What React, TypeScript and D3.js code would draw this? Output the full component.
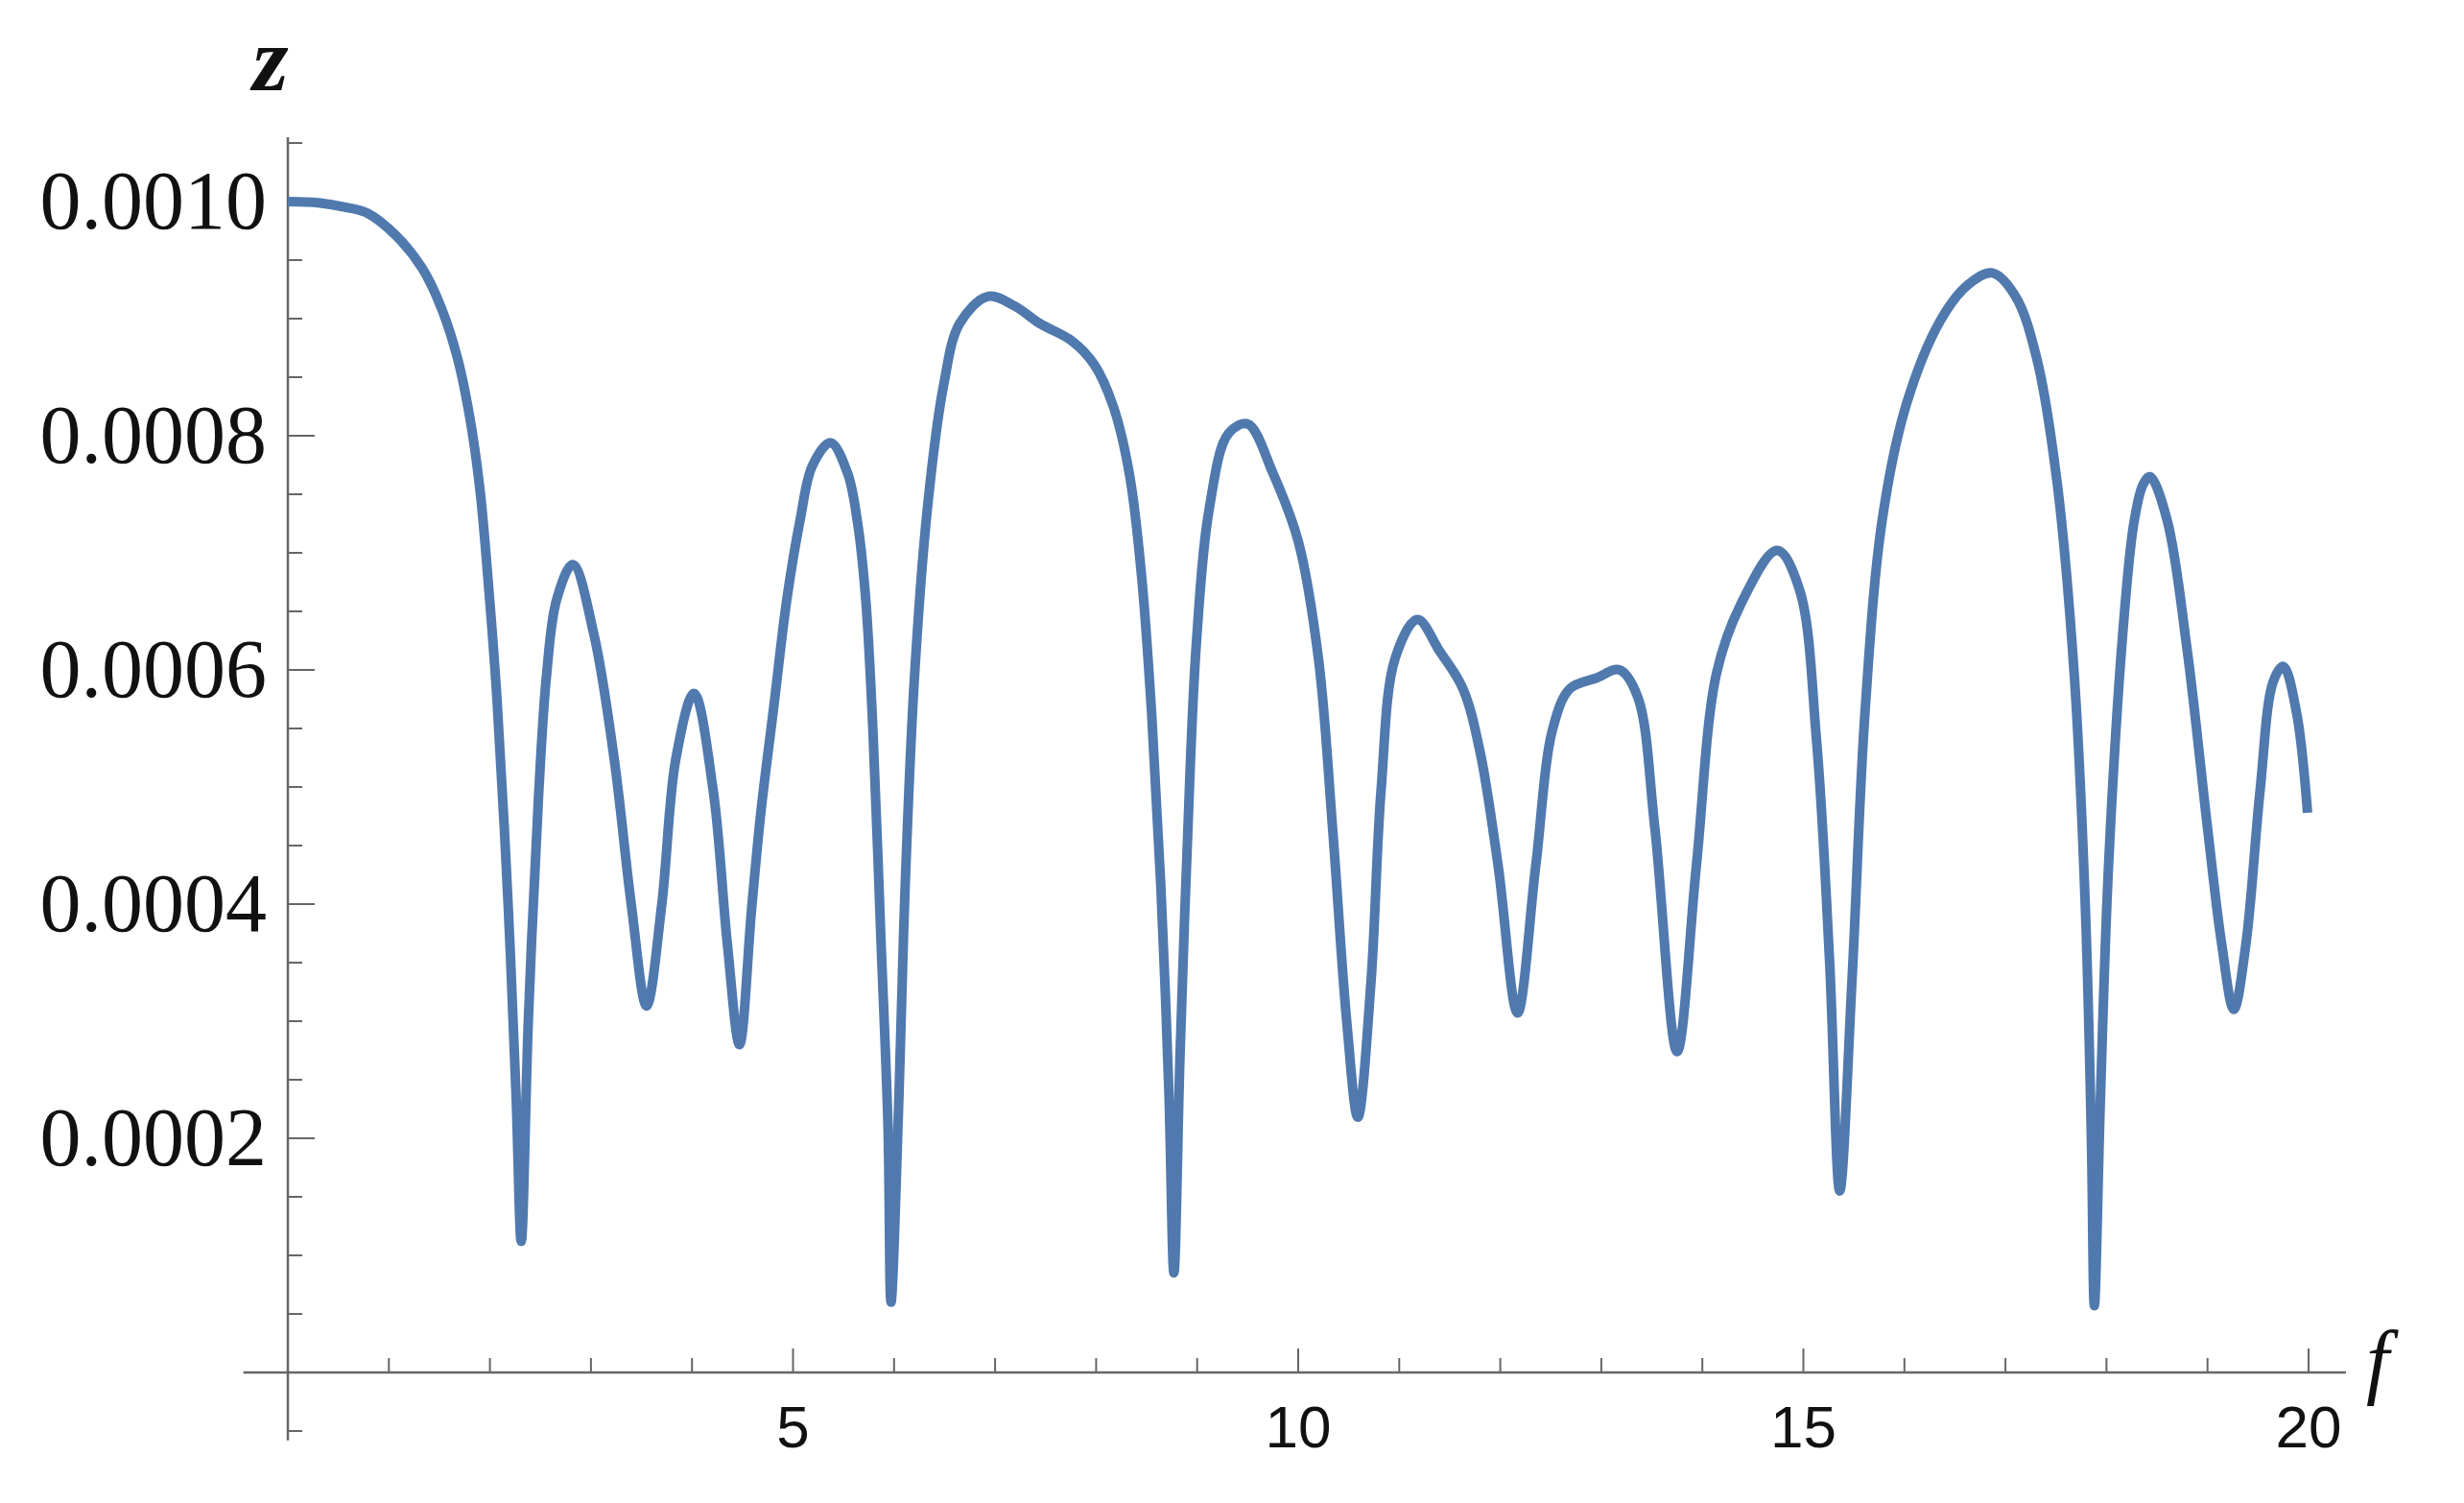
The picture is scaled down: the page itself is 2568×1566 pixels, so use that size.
import React, { useRef, useEffect } from 'react';
import * as d3 from 'd3';

// curve samples (f, z)
const fValues = [
  0, 0.3, 0.58, 0.79, 1.07, 1.33, 1.52, 1.68, 1.8, 1.9,
  1.99, 2.07, 2.18, 2.26, 2.31, 2.38, 2.48, 2.56, 2.66, 2.82,
  3.03, 3.23, 3.4, 3.55, 3.7, 3.84, 4.02, 4.21, 4.35, 4.47,
  4.59, 4.68, 4.81, 4.94, 5.07, 5.19, 5.37, 5.54, 5.64, 5.72,
  5.79, 5.87, 5.94, 5.97, 6.05, 6.11, 6.2, 6.33, 6.49, 6.65,
  6.93, 7.19, 7.44, 7.76, 7.98, 8.17, 8.33, 8.45, 8.55, 8.64,
  8.72, 8.77, 8.83, 8.9, 8.99, 9.12, 9.31, 9.5, 9.75, 10.0,
  10.2, 10.34, 10.48, 10.59, 10.72, 10.82, 10.96, 11.18, 11.4, 11.63,
  11.8, 11.98, 12.17, 12.35, 12.52, 12.69, 12.95, 13.18, 13.36, 13.53,
  13.75, 13.94, 14.14, 14.38, 14.74, 14.96, 15.13, 15.26, 15.36, 15.48,
  15.61, 15.78, 16.02, 16.36, 16.63, 16.87, 17.1, 17.31, 17.51, 17.68,
  17.79, 17.85, 17.88, 17.94, 18.02, 18.16, 18.27, 18.36, 18.43, 18.6,
  18.8, 19.0, 19.14, 19.26, 19.38, 19.52, 19.65, 19.75, 19.88, 19.99,
];

const zValues = [
  10.0e-4, 9.99e-4, 9.95e-4, 9.9e-4, 9.71e-4, 9.43e-4, 9.09e-4, 8.66e-4, 8.16e-4, 7.55e-4,
  6.68e-4, 5.75e-4, 4.0e-4, 2.34e-4, 1.12e-4, 3.0e-4, 4.9e-4, 5.95e-4, 6.6e-4, 6.9e-4,
  6.3e-4, 5.24e-4, 3.99e-4, 3.13e-4, 3.99e-4, 5.24e-4, 5.8e-4, 4.97e-4, 3.66e-4, 2.8e-4,
  3.96e-4, 4.77e-4, 5.69e-4, 6.61e-4, 7.28e-4, 7.74e-4, 7.94e-4, 7.68e-4, 7.25e-4, 6.6e-4,
  5.5e-4, 3.7e-4, 2.1e-4, 0.6e-4, 2.4e-4, 4.16e-4, 5.91e-4, 7.38e-4, 8.43e-4, 8.96e-4,
  9.19e-4, 9.11e-4, 8.96e-4, 8.81e-4, 8.61e-4, 8.25e-4, 7.67e-4, 6.8e-4, 5.62e-4, 4.16e-4,
  2.4e-4, 0.85e-4, 2.7e-4, 4.45e-4, 6.2e-4, 7.38e-4, 8.02e-4, 8.1e-4, 7.68e-4, 7.1e-4,
  6.1e-4, 4.65e-4, 3.0e-4, 2.18e-4, 3.33e-4, 4.97e-4, 6.1e-4, 6.43e-4, 6.16e-4, 5.84e-4,
  5.3e-4, 4.32e-4, 3.07e-4, 4.32e-4, 5.5e-4, 5.84e-4, 5.93e-4, 6.0e-4, 5.77e-4, 4.65e-4,
  2.74e-4, 4.32e-4, 5.97e-4, 6.56e-4, 7.02e-4, 6.69e-4, 5.4e-4, 3.5e-4, 1.55e-4, 3.33e-4,
  5.64e-4, 7.28e-4, 8.27e-4, 8.99e-4, 9.29e-4, 9.39e-4, 9.19e-4, 8.66e-4, 7.61e-4, 5.97e-4,
  3.99e-4, 2.02e-4, 0.57e-4, 2.34e-4, 4.32e-4, 6.3e-4, 7.25e-4, 7.58e-4, 7.65e-4, 7.28e-4,
  6.16e-4, 4.65e-4, 3.66e-4, 3.1e-4, 3.66e-4, 4.97e-4, 5.9e-4, 6.03e-4, 5.64e-4, 4.78e-4,
];

const xMajorTicks = [5, 10, 15, 20];
const xMinorTicks = [1, 2, 3, 4, 6, 7, 8, 9, 11, 12, 13, 14, 16, 17, 18, 19];
const yMajorTicks = [0.0002, 0.0004, 0.0006, 0.0008, 0.001];
const yTickLabels = ['0.0002', '0.0004', '0.0006', '0.0008', '0.0010'];
const yMinorTicks = [
  -0.00005, 0.00005, 0.0001, 0.00015, 0.00025, 0.0003, 0.00035, 0.00045, 0.0005, 0.00055,
  0.00065, 0.0007, 0.00075, 0.00085, 0.0009, 0.00095, 0.00105,
];

const App = () => {
  const ref = useRef<SVGSVGElement>(null);

  useEffect(() => {
    const svg = d3.select(ref.current);
    svg.selectAll('*').remove();

    const x = d3.scaleLinear().domain([0, 20]).range([300, 2406]);
    const y = d3.scaleLinear().domain([0, 0.001]).range([1430, 210]);
    const axisColor = '#666';

    // axes lines
    svg.append('line')
      .attr('x1', x(-0.44)).attr('x2', x(20.37))
      .attr('y1', y(0)).attr('y2', y(0))
      .attr('stroke', axisColor).attr('stroke-width', 2.5);
    svg.append('line')
      .attr('x1', x(0)).attr('x2', x(0))
      .attr('y1', y(-0.000058)).attr('y2', y(0.001055))
      .attr('stroke', axisColor).attr('stroke-width', 2.5);

    // x ticks
    svg.append('g').selectAll('line')
      .data(xMajorTicks).enter().append('line')
      .attr('x1', d => x(d)).attr('x2', d => x(d))
      .attr('y1', y(0)).attr('y2', y(0) - 25)
      .attr('stroke', axisColor).attr('stroke-width', 2);
    svg.append('g').selectAll('line')
      .data(xMinorTicks).enter().append('line')
      .attr('x1', d => x(d)).attr('x2', d => x(d))
      .attr('y1', y(0)).attr('y2', y(0) - 15)
      .attr('stroke', axisColor).attr('stroke-width', 2);
    svg.append('g').selectAll('text')
      .data(xMajorTicks).enter().append('text')
      .attr('x', d => x(d)).attr('y', 1508)
      .attr('text-anchor', 'middle')
      .attr('font-family', '"Liberation Sans", Arial, sans-serif')
      .attr('font-size', 62)
      .attr('fill', '#111')
      .text(d => String(d));

    // y ticks
    svg.append('g').selectAll('line')
      .data(yMajorTicks).enter().append('line')
      .attr('x1', x(0)).attr('x2', x(0) + 28)
      .attr('y1', d => y(d)).attr('y2', d => y(d))
      .attr('stroke', axisColor).attr('stroke-width', 2);
    svg.append('g').selectAll('line')
      .data(yMinorTicks).enter().append('line')
      .attr('x1', x(0)).attr('x2', x(0) + 15)
      .attr('y1', d => y(d)).attr('y2', d => y(d))
      .attr('stroke', axisColor).attr('stroke-width', 2);
    svg.append('g').selectAll('text')
      .data(yMajorTicks).enter().append('text')
      .attr('x', 278).attr('y', d => y(d))
      .attr('dy', '0.33em')
      .attr('text-anchor', 'end')
      .attr('font-family', '"Liberation Serif", "Times New Roman", serif')
      .attr('font-size', 86)
      .attr('fill', '#111')
      .text((d, i) => yTickLabels[i]);

    // the curve
    const points = fValues.map((f, i) => [f, zValues[i]] as [number, number]);
    const line = d3.line<[number, number]>()
      .x(d => x(d[0]))
      .y(d => y(d[1]))
      .curve(d3.curveCatmullRom.alpha(0.5));
    svg.append('path')
      .datum(points)
      .attr('d', line)
      .attr('fill', 'none')
      .attr('stroke', '#5079ae')
      .attr('stroke-width', 10)
      .attr('stroke-linejoin', 'round');

    // axis labels
    svg.append('text')
      .attr('x', 282).attr('y', 94)
      .attr('text-anchor', 'middle')
      .attr('font-family', '"Liberation Serif", "Times New Roman", serif')
      .attr('font-style', 'italic')
      .attr('font-weight', 'bold')
      .attr('font-size', 96)
      .attr('fill', '#111')
      .text('z');
    svg.append('text')
      .attr('x', 2466).attr('y', 1446)
      .attr('font-family', '"Liberation Serif", "Times New Roman", serif')
      .attr('font-style', 'italic')
      .attr('font-size', 86)
      .attr('fill', '#111')
      .text('f');
  }, []);

  return (
    <svg
      ref={ref}
      width={2568}
      height={1566}
      style={{ position: 'absolute', left: 0, top: 0, background: '#fff' }}
    ></svg>
  );
};

export default App;
